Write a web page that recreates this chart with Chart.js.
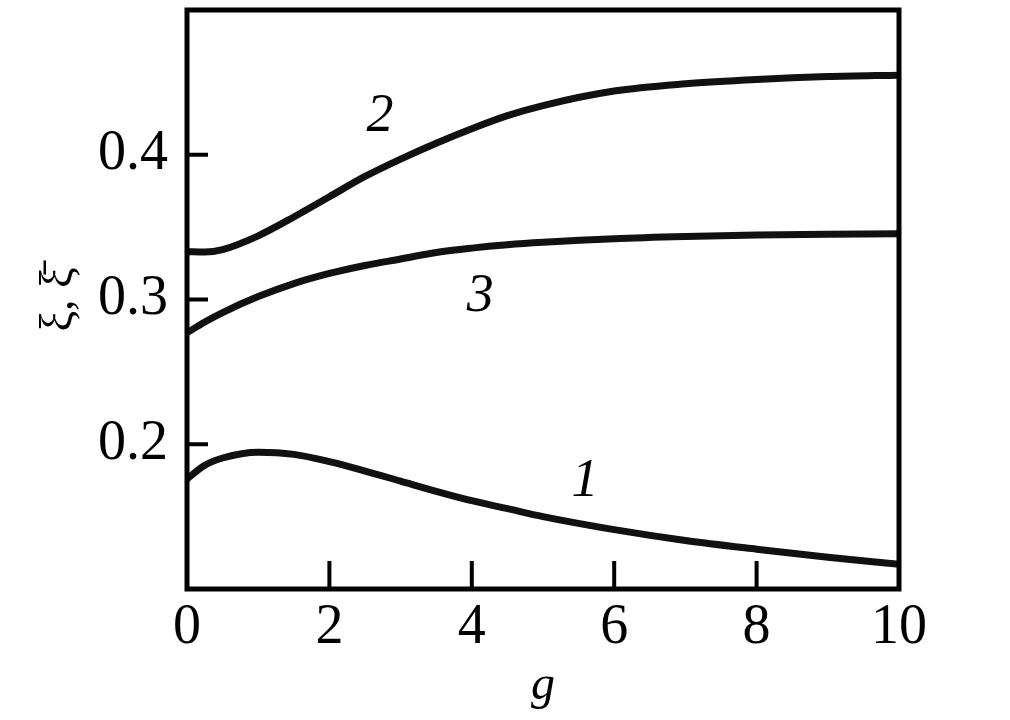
<!DOCTYPE html>
<html>
<head>
<meta charset="utf-8">
<script src="https://cdn.jsdelivr.net/npm/chart.js@4"></script>
<style>
  html, body { margin: 0; padding: 0; background: #fff; }
  #wrap { width: 1010px; height: 720px; }
</style>
</head>
<body>
<div id="wrap"><canvas id="myChart" width="1010" height="720"></canvas></div>
<script>
// valores
const gValues = [0, 0.25, 0.5, 1, 1.5, 2, 2.5, 3, 3.5, 4, 4.5, 5, 6, 7, 8, 9, 10];
const curve1 = [0.176, 0.1855, 0.1905, 0.1945, 0.193, 0.188, 0.1815, 0.1745, 0.1675, 0.161, 0.1555, 0.150, 0.141, 0.1335, 0.1275, 0.122, 0.117];
const curve2 = [0.333, 0.3328, 0.3345, 0.344, 0.357, 0.371, 0.385, 0.397, 0.408, 0.418, 0.427, 0.434, 0.444, 0.449, 0.452, 0.454, 0.455];
const curve3 = [0.277, 0.2845, 0.291, 0.302, 0.311, 0.318, 0.3235, 0.328, 0.3325, 0.3355, 0.3378, 0.3395, 0.342, 0.3435, 0.3445, 0.345, 0.3455];

// etiquetas de las curvas (en coordenadas de datos)
const curveNames = ['1', '2', '3'];
const labelG = [5.59, 2.71, 4.12];
const labelXi = [0.174, 0.426, 0.302];

// marcas hacia adentro
const xMarks = [2, 4, 6, 8];
const yMarks = [0.2, 0.3, 0.4];
const xTickLabels = [0, 2, 4, 6, 8, 10];

function toPoints(ys) {
  return gValues.map((g, i) => ({x: g, y: ys[i]}));
}

function lineDataset(ys) {
  return {
    data: toPoints(ys),
    borderColor: '#111',
    borderWidth: 7,
    pointRadius: 0,
    cubicInterpolationMode: 'monotone',
    fill: false
  };
}

const framePlugin = {
  id: 'framePlugin',
  afterDraw(chart) {
    const {ctx, chartArea: a, scales: {x, y}} = chart;
    ctx.save();
    ctx.strokeStyle = '#000';
    ctx.lineWidth = 5;
    ctx.strokeRect(a.left, a.top, a.right - a.left, a.bottom - a.top);

    // marcas
    ctx.lineWidth = 4;
    ctx.beginPath();
    xMarks.forEach(v => {
      const px = x.getPixelForValue(v);
      ctx.moveTo(px, a.bottom);
      ctx.lineTo(px, a.bottom - 28);
    });
    yMarks.forEach(v => {
      const py = y.getPixelForValue(v);
      ctx.moveTo(a.left, py);
      ctx.lineTo(a.left + 21, py);
    });
    ctx.stroke();

    // numeros de curva
    ctx.fillStyle = '#000';
    ctx.font = 'italic 54px "Liberation Serif", "DejaVu Serif", serif';
    ctx.textAlign = 'center';
    ctx.textBaseline = 'middle';
    curveNames.forEach((name, i) => {
      ctx.fillText(name, x.getPixelForValue(labelG[i]), y.getPixelForValue(labelXi[i]));
    });
    ctx.restore();
  }
};

const config = {
  type: 'line',
  data: {
    datasets: [lineDataset(curve1), lineDataset(curve2), lineDataset(curve3)]
  },
  options: {
    responsive: false,
    animation: false,
    layout: { padding: { left: 0, right: 111, top: 10, bottom: 0 } },
    plugins: { legend: { display: false }, tooltip: { enabled: false } },
    scales: {
      x: {
        type: 'linear',
        min: 0,
        max: 10,
        afterFit: s => { s.height = 131; },
        afterBuildTicks: s => { s.ticks = xTickLabels.map(v => ({value: v})); },
        grid: { display: false, drawTicks: false },
        border: { display: false },
        ticks: {
          padding: 6,
          color: '#000',
          font: { family: '"Liberation Serif", serif', size: 56 },
          callback: v => String(v)
        },
        title: {
          display: true,
          text: 'g',
          color: '#000',
          padding: { top: 0, bottom: 5 },
          font: { family: '"Liberation Serif", serif', size: 48, style: 'italic' }
        }
      },
      y: {
        type: 'linear',
        min: 0.1,
        max: 0.5,
        afterFit: s => { s.width = 187; },
        afterBuildTicks: s => { s.ticks = yMarks.map(v => ({value: v})); },
        // marcas invisibles solo para separar las etiquetas del eje
        grid: { display: true, drawOnChartArea: false, drawTicks: true, tickLength: 19, tickColor: 'rgba(0,0,0,0)' },
        border: { display: false },
        ticks: {
          padding: 0,
          color: '#000',
          font: { family: '"Liberation Serif", serif', size: 56, lineHeight: 0.3 },
          callback: v => v.toFixed(1)
        },
        title: {
          display: true,
          text: 'ξ, ξ̄',
          color: '#000',
          padding: { top: 32, bottom: 0 },
          font: { family: '"Liberation Serif", serif', size: 46 }
        }
      }
    }
  },
  plugins: [framePlugin]
};

const myChart = new Chart(document.getElementById('myChart'), config);
</script>
</body>
</html>
